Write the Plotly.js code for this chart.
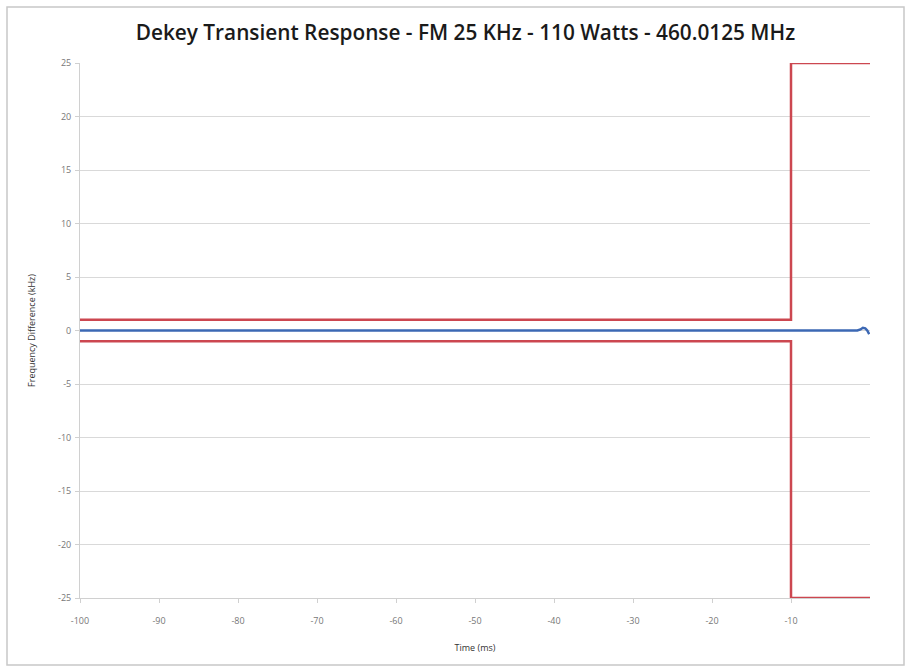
<!DOCTYPE html>
<html><head><meta charset="utf-8">
<script src="https://cdn.plot.ly/plotly-3.0.1.min.js"></script>
<style>html,body{margin:0;padding:0;background:#fff}#chart{width:909px;height:669px}</style>
</head><body><div id="chart"></div>
<script>
// Data (time in ms, frequency difference in kHz)
const upperLimitTime = [-100, -10, -10, 0];
const upperLimitKHz  = [1, 1, 25, 25];
const lowerLimitTime = [-100, -10, -10, 0];
const lowerLimitKHz  = [-1, -1, -25, -25];
const responseTime   = [-100, -50, -1.6, -1.2, -0.9, -0.6, -0.35, -0.1];
const responseKHz    = [0, 0, 0, 0.1, 0.25, 0.2, 0.0, -0.35];
const xTickVals = [-100, -90, -80, -70, -60, -50, -40, -30, -20, -10];
const yTickVals = [-25, -20, -15, -10, -5, 0, 5, 10, 15, 20, 25];

const red = '#cc4750';
const blue = '#3c68b4';

const traces = [
  {x: upperLimitTime, y: upperLimitKHz, mode: 'lines', line: {color: red, width: 2.5}, hoverinfo: 'skip'},
  {x: lowerLimitTime, y: lowerLimitKHz, mode: 'lines', line: {color: red, width: 2.5}, hoverinfo: 'skip'},
  {x: responseTime, y: responseKHz, mode: 'lines', line: {color: blue, width: 2.5}, hoverinfo: 'skip'}
];

const layout = {
  width: 909, height: 669,
  margin: {l: 80, r: 39, t: 63, b: 71},
  paper_bgcolor: '#fff', plot_bgcolor: '#fff',
  showlegend: false,
  title: {text: 'Dekey Transient Response - FM 25 KHz - 110 Watts - 460.0125 MHz',
          font: {family: 'Open Sans, sans-serif', size: 20.8, color: '#1a1a1a', weight: 600},
          x: 0.512, xanchor: 'center', y: 0.951, yanchor: 'middle'},
  xaxis: {range: [-100, 0], tickvals: xTickVals, ticktext: xTickVals.map(String),
          showgrid: false, zeroline: false, showline: true, linecolor: '#d0d0d0', linewidth: 1,
          ticks: 'outside', ticklen: 4, tickcolor: '#d0d0d0', ticklabelstandoff: 10,
          tickfont: {family: 'Open Sans, sans-serif', size: 9, color: '#777'},
          title: {text: 'Time (ms)', font: {family: 'Open Sans, sans-serif', size: 9, color: '#333'}, standoff: 18}},
  yaxis: {range: [-25, 25], tickvals: yTickVals, ticktext: yTickVals.map(String),
          showgrid: true, gridcolor: '#d9d9d9', gridwidth: 1, zeroline: false,
          showline: true, linecolor: '#d0d0d0', linewidth: 1,
          ticks: 'outside', ticklen: 4, tickcolor: '#d0d0d0', ticklabelstandoff: 2,
          tickfont: {family: 'Open Sans, sans-serif', size: 9, color: '#777'},
          title: {text: 'Frequency Difference (kHz)', font: {family: 'Open Sans, sans-serif', size: 9, color: '#333'}, standoff: 20}},
  shapes: [{type: 'rect', xref: 'paper', yref: 'paper',
            x0: (7 - 80) / 790, x1: (904 - 80) / 790, y0: (598 - 665) / 535, y1: (598 - 7) / 535,
            line: {color: '#c8c8c8', width: 1.5}, fillcolor: 'rgba(0,0,0,0)', layer: 'below'}]
};

Plotly.newPlot('chart', traces, layout, {staticPlot: true, displayModeBar: false});
</script>
</body></html>
